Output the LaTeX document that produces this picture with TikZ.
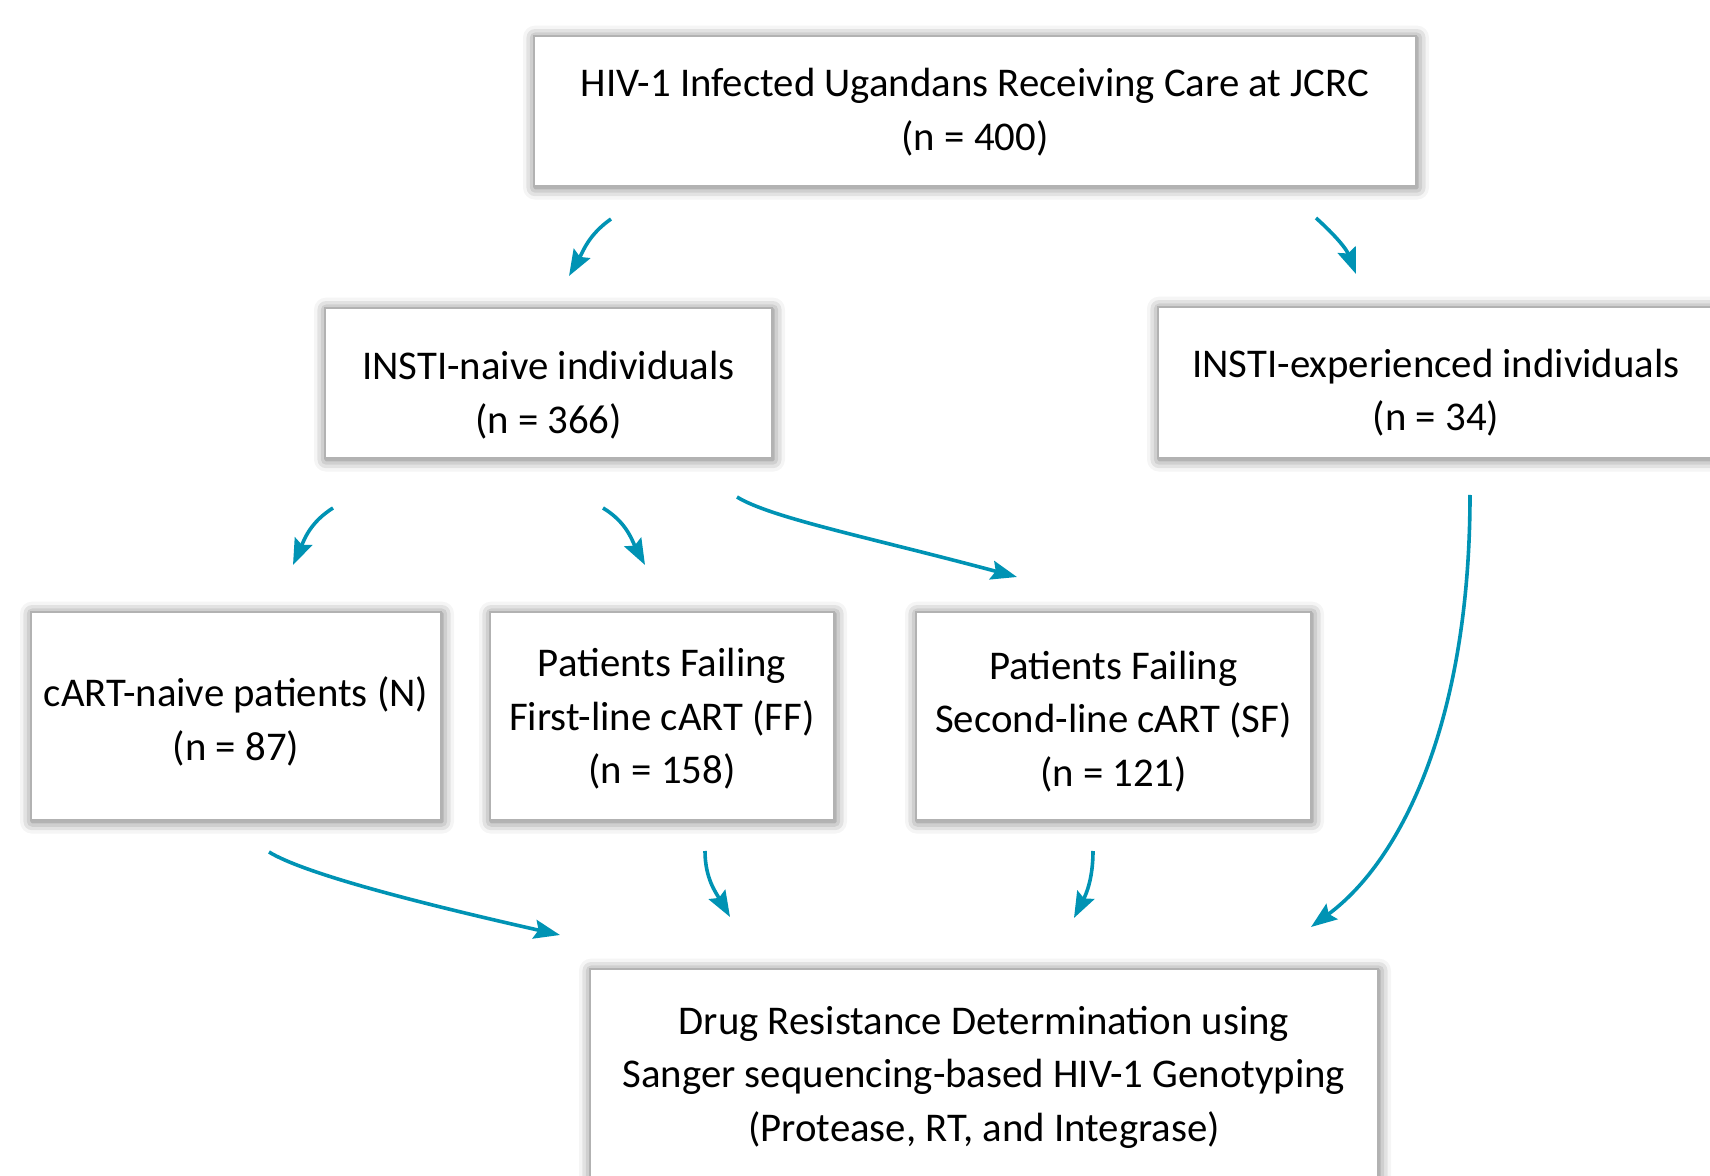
\documentclass[tikz,border=0pt]{standalone}
\usepackage{fontspec}
\setmainfont{Carlito}
\usetikzlibrary{arrows.meta,shadows.blur}
\definecolor{arrowteal}{RGB}{0,147,180}
\begin{document}
\begin{tikzpicture}[x=0.5pt,y=-0.5pt,
  box/.style={draw=gray!60, line width=1.3pt, fill=white, inner sep=0pt,
    blur shadow={shadow xshift=0.5pt, shadow yshift=-0.8pt, shadow blur radius=6pt, shadow opacity=60}},
  txt/.style={align=center, inner sep=0pt, font=\fontsize{20.4}{26.75}\selectfont},
  arr/.style={draw=arrowteal, line width=1.8pt, -{Stealth[length=13pt,width=9.5pt,inset=2pt]}}]
\useasboundingbox (0,0) rectangle (1710,1176);

\node[box, minimum width=441pt, minimum height=75pt,
  label={[txt, yshift=-0.5pt]center:{HIV-1 Infected Ugandans Receiving Care at JCRC\\(n = 400)}}] (top) at (975,111) {};
\node[box, minimum width=223.5pt, minimum height=75pt,
  label={[txt, yshift=-6pt]center:{INSTI-naive individuals\\(n = 366)}}] (naive) at (548.5,383) {};
\node[box, minimum width=278pt, minimum height=75.5pt,
  label={[txt, yshift=-5pt]center:{INSTI-experienced individuals\\(n = 34)}}] (exp) at (1436,382.5) {};
\node[box, minimum width=205pt, minimum height=104pt,
  label={[txt, yshift=-2.7pt]center:{cART-naive patients (N)\\(n = 87)}}] (nv) at (236,716) {};
\node[box, minimum width=172pt, minimum height=104pt,
  label={[txt, yshift=-1.4pt]center:{Patients Failing\\First-line cART (FF)\\(n = 158)}}] (ff) at (662,716) {};
\node[box, minimum width=197.5pt, minimum height=104pt,
  label={[txt, yshift=-2.7pt]center:{Patients Failing\\Second-line cART (SF)\\(n = 121)}}] (sf) at (1113.5,716) {};
\node[box, minimum width=394pt, minimum height=105pt,
  label={[txt, yshift=-1.6pt]center:{Drug Resistance Determination using\\Sanger sequencing-based HIV-1 Genotyping\\(Protease, RT, and Integrase)}}] (bot) at (984,1074) {};

\coordinate (a1s) at (611,219);  \coordinate (a1e) at (569,276);
\coordinate (a2s) at (1316,218); \coordinate (a2e) at (1356,274);
\coordinate (a3s) at (333,508);  \coordinate (a3e) at (293,565);
\coordinate (a4s) at (603,508);  \coordinate (a4e) at (645,565);
\coordinate (a5s) at (737,497);  \coordinate (a5e) at (1017,577);
\coordinate (a6s) at (269,852);  \coordinate (a6e) at (560,935);
\coordinate (a7s) at (705,851);  \coordinate (a7e) at (730,917);
\coordinate (a8s) at (1093,851); \coordinate (a8e) at (1074,918);
\coordinate (a9s) at (1470,495); \coordinate (a9e) at (1311,927);

\draw[arr] (a1s) to[out=215,in=60] (a1e);
\draw[arr] (a2s) to[out=-42,in=111] (a2e);
\draw[arr] (a3s) to[out=212,in=66] (a3e);
\draw[arr] (a4s) to[out=-31,in=118] (a4e);
\draw[arr] (a5s) .. controls (771,518) and (872,538) .. (a5e);
\draw[arr] (a6s) .. controls (303,873) and (414,902) .. (a6e);
\draw[arr] (a7s) to[out=-90,in=120] (a7e);
\draw[arr] (a8s) to[out=-90,in=63] (a8e);
\draw[arr] (a9s) .. controls (1470,720) and (1402,860) .. (a9e);
\end{tikzpicture}
\end{document}
